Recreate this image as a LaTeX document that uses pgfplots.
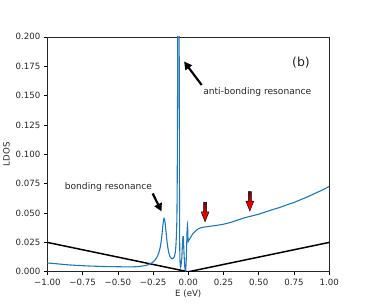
\documentclass[border=0pt]{standalone}
\usepackage{pgfplots}
\pgfplotsset{compat=1.18}
\usepackage{fontspec}
\setmainfont{DejaVu Sans}
\usetikzlibrary{arrows.meta}
\definecolor{mplblue}{HTML}{1F77B4}
\definecolor{darkred}{HTML}{6A0000}
\begin{document}
\begin{tikzpicture}
\path (-46bp,-33bp) rectangle (320bp,273bp);
\begin{axis}[
  at={(0,0)}, anchor=south west,
  width=283bp, height=236bp, scale only axis,
  xmin=-1, xmax=1, ymin=0, ymax=0.2,
  xtick={-1,-0.75,-0.5,-0.25,0,0.25,0.5,0.75,1},
  xticklabels={−1.00,−0.75,−0.50,−0.25,0.00,0.25,0.50,0.75,1.00},
  ytick={0,0.025,0.05,0.075,0.1,0.125,0.15,0.175,0.2},
  yticklabels={0.000,0.025,0.050,0.075,0.100,0.125,0.150,0.175,0.200},
  xtick pos=bottom, ytick pos=left,
  tick align=outside, major tick length=3.5bp,
  every tick/.style={black, line width=0.6pt},
  axis line style={black!85, line width=0.6pt},
  tick label style={font=\fontsize{8.7}{10}\selectfont, text=black!85},
  xlabel={E (eV)}, ylabel={LDOS},
  label style={font=\fontsize{8.7}{10}\selectfont, text=black!85},
  xlabel style={at={(axis description cs:0.5,-0.095)}, anchor=center},
  ylabel style={at={(axis description cs:-0.145,0.5)}, anchor=center},
  clip=true,
]
\addplot[black, line width=1.5pt] coordinates {(-1,0.025) (0,0) (1,0.025)};
\addplot[mplblue, line width=1.1pt, smooth, tension=0.3] coordinates {
(-1.00,0.0075) (-0.95,0.0070) (-0.90,0.0064) (-0.85,0.0059) (-0.80,0.0055)
(-0.75,0.0052) (-0.70,0.0049) (-0.65,0.0047) (-0.60,0.0045) (-0.55,0.0044)
(-0.50,0.0043) (-0.45,0.0042) (-0.40,0.0042) (-0.36,0.0044) (-0.32,0.0050)
(-0.29,0.0058) (-0.26,0.0075) (-0.24,0.0095) (-0.22,0.0130) (-0.21,0.0160)
(-0.20,0.0205) (-0.19,0.0280) (-0.185,0.034) (-0.18,0.040) (-0.175,0.0445)
(-0.172,0.0455) (-0.168,0.0445) (-0.163,0.040) (-0.158,0.034) (-0.153,0.028)
(-0.147,0.022) (-0.14,0.017) (-0.13,0.013) (-0.12,0.0115) (-0.11,0.011)
(-0.10,0.0125) (-0.093,0.016) (-0.088,0.022) (-0.084,0.032) (-0.081,0.045)
(-0.079,0.07) (-0.077,0.12) (-0.075,0.21) (-0.072,0.30) (-0.070,0.35)
(-0.068,0.30) (-0.065,0.21) (-0.063,0.08) (-0.061,0.025) (-0.059,0.009)
(-0.055,0.004) (-0.051,0.006) (-0.046,0.012) (-0.042,0.022) (-0.038,0.030)
(-0.035,0.030) (-0.032,0.020) (-0.028,0.010) (-0.024,0.003) (-0.020,0.001)
(-0.016,0.006) (-0.012,0.020) (-0.009,0.034) (-0.006,0.040) (-0.004,0.036)
(-0.002,0.028) (0.000,0.026) (0.005,0.027) (0.015,0.029) (0.03,0.032)
(0.05,0.0345) (0.07,0.0365) (0.09,0.0375) (0.11,0.038) (0.14,0.0385)
(0.17,0.039) (0.20,0.0395) (0.25,0.0405) (0.30,0.042) (0.35,0.044)
(0.40,0.046) (0.45,0.0475) (0.50,0.049) (0.55,0.051) (0.60,0.053)
(0.65,0.0548) (0.70,0.057) (0.75,0.059) (0.80,0.0615) (0.85,0.064)
(0.90,0.0668) (0.95,0.0695) (1.00,0.0726)
};
% annotations
\draw[black, line width=2.2pt, -{Triangle[width=8pt,length=8pt]}] (axis cs:0.095,0.159) -- (axis cs:-0.030,0.179);
\draw[black, line width=2.2pt, -{Triangle[width=8pt,length=8pt]}] (axis cs:-0.253,0.0667) -- (axis cs:-0.190,0.0514);
\node[anchor=west, inner sep=0pt, font=\fontsize{9.2}{11}\selectfont, text=black!85] at (axis cs:0.105,0.1528) {anti-bonding resonance};
\node[anchor=west, inner sep=0pt, font=\fontsize{9.2}{11}\selectfont, text=black!85] at (axis cs:-0.878,0.0723) {bonding resonance};
\node[anchor=center, inner sep=0pt, font=\fontsize{12.5}{14}\selectfont, text=black!85] at (axis cs:0.80,0.1777) {(b)};
\shadedraw[top color=darkred, bottom color=red, middle color=red!85!black, draw=black, line width=0.4pt]
  (axis cs:0.119,0.0426) -- ++(4bp,10bp) -- ++(-2.5bp,0bp) -- ++(0bp,9.5bp) -- ++(-3bp,0bp) -- ++(0bp,-9.5bp) -- ++(-2.5bp,0bp) -- cycle;
\shadedraw[top color=darkred, bottom color=red, middle color=red!85!black, draw=black, line width=0.4pt]
  (axis cs:0.437,0.0517) -- ++(4bp,10bp) -- ++(-2.5bp,0bp) -- ++(0bp,9.5bp) -- ++(-3bp,0bp) -- ++(0bp,-9.5bp) -- ++(-2.5bp,0bp) -- cycle;
\end{axis}
\end{tikzpicture}
\end{document}
